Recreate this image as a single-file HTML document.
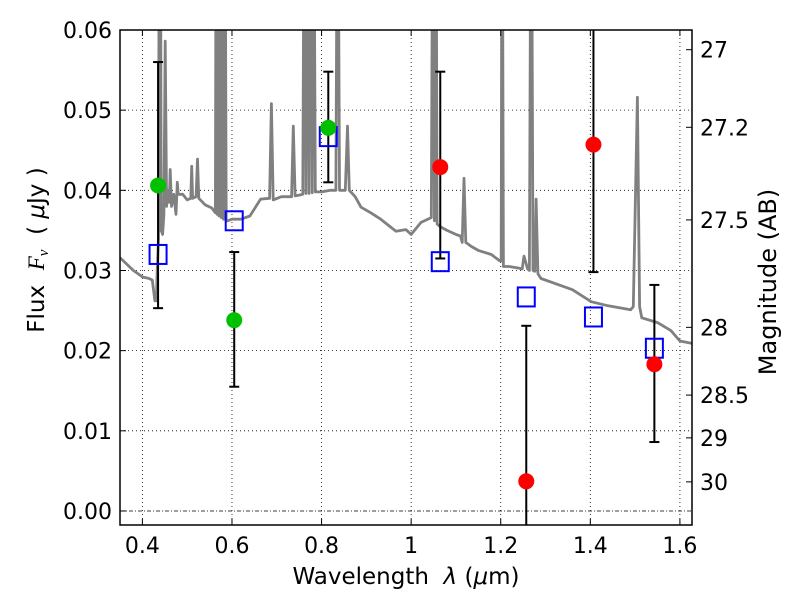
<!DOCTYPE html>
<html><head><meta charset="utf-8"><style>
body{margin:0;background:#fff;}
svg{display:block;font-family:"DejaVu Sans","Liberation Sans",sans-serif;}
text{white-space:pre;}
</style></head><body>
<svg id="chart" width="800" height="600" viewBox="0 0 800 600">
<defs><clipPath id="plotclip"><rect x="120" y="30" width="572" height="495"/></clipPath></defs>
<rect x="0" y="0" width="800" height="600" fill="#fff"/>
<g id="grid"></g>
<g id="spec" clip-path="url(#plotclip)"></g>
<g id="marks" clip-path="url(#plotclip)"></g>
<rect x="120" y="30" width="572" height="495" fill="none" stroke="#000" stroke-width="1.5"/>
<g id="ticks"></g>
<text x="406" y="584" font-size="23" text-anchor="middle" xml:space="preserve">Wavelength  <tspan font-style="italic">λ</tspan> (<tspan font-style="italic">μ</tspan>m)</text>
<text transform="translate(44,250) rotate(-90)" font-size="23" text-anchor="middle" xml:space="preserve">Flux  <tspan font-family="Liberation Serif" font-style="italic">F<tspan font-size="15" dy="4">ν</tspan></tspan><tspan dy="-4">  ( </tspan><tspan font-style="italic">μ</tspan>Jy )</text>
<text transform="translate(776,282) rotate(-90)" font-size="24" text-anchor="middle">Magnitude (AB)</text>
</svg>
<script>
const xTicks=[0.4,0.6,0.8,1.0,1.2,1.4,1.6];
const xTickLabels=["0.4","0.6","0.8","1","1.2","1.4","1.6"];
const yTicks=[0,0.01,0.02,0.03,0.04,0.05,0.06];
const yTickLabels=["0.00","0.01","0.02","0.03","0.04","0.05","0.06"];
const magTicks=[27,27.2,27.5,28,28.5,29,30];
const magTickLabels=["27","27.2","27.5","28","28.5","29","30"];
const obsWave=[0.435,0.605,0.815,1.065,1.257,1.407,1.543];
const obsFlux=[0.0406,0.0238,0.0478,0.0429,0.0037,0.0457,0.0183];
const obsLow=[0.0253,0.0155,0.041,0.0315,-0.01,0.0298,0.0086];
const obsHigh=[0.056,0.0323,0.0548,0.0548,0.0231,0.08,0.0282];
const obsColor=["#00c000","#00c000","#00c000","#ff0000","#ff0000","#ff0000","#ff0000"];
const modelFlux=[0.032,0.0362,0.0467,0.0311,0.0267,0.0242,0.0203];
const specWave=[0.35,0.38,0.40,0.415,0.422,0.425,0.428,0.431,0.433,0.436,0.438,0.440,0.442,0.445,0.448,0.451,0.454,0.457,0.460,0.462,0.465,0.47,0.475,0.478,0.48,0.482,0.49,0.5,0.508,0.51,0.512,0.52,0.523,0.526,0.54,0.555,0.563,0.565,0.567,0.569,0.571,0.573,0.576,0.579,0.581,0.584,0.587,0.59,0.6,0.62,0.64,0.664,0.684,0.688,0.692,0.71,0.733,0.737,0.741,0.75,0.758,0.762,0.765,0.768,0.772,0.776,0.779,0.782,0.786,0.8,0.82,0.832,0.836,0.84,0.853,0.858,0.862,0.875,0.888,0.91,0.932,0.95,0.966,0.988,1.0,1.022,1.045,1.049,1.052,1.055,1.058,1.062,1.067,1.08,1.1,1.11,1.114,1.118,1.122,1.134,1.15,1.179,1.198,1.201,1.203,1.206,1.219,1.24,1.248,1.252,1.26,1.264,1.268,1.272,1.276,1.279,1.283,1.29,1.32,1.36,1.402,1.44,1.49,1.496,1.505,1.51,1.515,1.55,1.58,1.6,1.627];
const specFlux=[0.0316,0.0300,0.0292,0.0290,0.0288,0.0275,0.0262,0.0262,0.030,0.034,0.09,0.09,0.035,0.0345,0.037,0.0586,0.038,0.040,0.0385,0.0426,0.038,0.0395,0.037,0.041,0.0395,0.0395,0.0395,0.0388,0.0390,0.0430,0.0390,0.0392,0.0439,0.0390,0.0382,0.0378,0.0372,0.09,0.037,0.09,0.0368,0.09,0.0366,0.09,0.0364,0.09,0.0362,0.0362,0.0364,0.0364,0.0368,0.0389,0.0390,0.0508,0.0388,0.0392,0.0392,0.048,0.0393,0.0394,0.0395,0.09,0.0396,0.09,0.0396,0.09,0.0397,0.09,0.0398,0.0398,0.0400,0.0400,0.09,0.0400,0.0400,0.048,0.0400,0.0392,0.0379,0.0372,0.0364,0.0356,0.0349,0.0351,0.0345,0.036,0.0366,0.09,0.0362,0.09,0.0358,0.0356,0.0354,0.0350,0.0345,0.0343,0.0335,0.0415,0.0335,0.0330,0.0325,0.0320,0.0312,0.0312,0.09,0.0305,0.0305,0.0303,0.0302,0.0318,0.0302,0.0300,0.09,0.0300,0.0299,0.0389,0.0296,0.0290,0.0284,0.0276,0.0261,0.0256,0.0251,0.0255,0.0516,0.0255,0.0241,0.0235,0.0225,0.0212,0.0209];
const X0=0.35,X1=1.627,PX0=120,PX1=692,Y0=-0.00175,Y1=0.06,PY0=525,PY1=30;
function sx(v){return PX0+(v-X0)/(X1-X0)*(PX1-PX0);}
function sy(v){return PY0-(v-Y0)/(Y1-Y0)*(PY0-PY1);}
function magToFlux(m){return Math.pow(10,-0.4*(m-23.9));}
const NS="http://www.w3.org/2000/svg";
function mk(tag,attrs,parent){const e=document.createElementNS(NS,tag);for(const k in attrs)e.setAttribute(k,attrs[k]);parent.appendChild(e);return e;}
const grid=document.getElementById('grid'),ticks=document.getElementById('ticks'),spec=document.getElementById('spec'),marks=document.getElementById('marks');
xTicks.forEach((v,i)=>{const x=sx(v);
 const g=mk('line',{x1:x,x2:x,y1:30,y2:525,stroke:'#000','stroke-width':0.8,'stroke-dasharray':'1,3'},grid);
 
 
 mk('line',{x1:x,x2:x,y1:525,y2:519,stroke:'#000'},ticks);
 mk('line',{x1:x,x2:x,y1:30,y2:36,stroke:'#000'},ticks);
 const t=mk('text',{x:x,y:553,'font-size':22,'text-anchor':'middle'},ticks);t.textContent=xTickLabels[i];
 
 
});
yTicks.forEach((v,i)=>{const y=sy(v);
 const g=mk('line',{x1:120,x2:692,y1:y,y2:y,stroke:'#000','stroke-width':0.8,'stroke-dasharray':v===0?'4,2,1,2':'1,3'},grid);
 
 
 mk('line',{x1:120,x2:126,y1:y,y2:y,stroke:'#000'},ticks);
 const t=mk('text',{x:112,y:y+8,'font-size':22,'text-anchor':'end'},ticks);t.textContent=yTickLabels[i];
 
 
});
magTicks.forEach((m,i)=>{const y=sy(magToFlux(m));
 mk('line',{x1:686,x2:692,y1:y,y2:y,stroke:'#000'},ticks);
 const t=mk('text',{x:700,y:y+8,'font-size':22},ticks);t.textContent=magTickLabels[i];
 
 
});
const pts=specWave.map((w,i)=>sx(w).toFixed(1)+','+sy(specFlux[i]).toFixed(1)).join(' ');
const pl=mk('polyline',{points:pts,fill:'none',stroke:'#808080','stroke-width':2.8,'stroke-linejoin':'round'},spec);


obsWave.forEach((w,i)=>{const x=sx(w);
 const e=mk('g',{},marks);
 
 
 mk('line',{x1:x,x2:x,y1:sy(obsLow[i]),y2:sy(obsHigh[i]),stroke:'#000','stroke-width':2},e);
 mk('line',{x1:x-5,x2:x+5,y1:sy(obsLow[i]),y2:sy(obsLow[i]),stroke:'#000','stroke-width':2},e);
 mk('line',{x1:x-5,x2:x+5,y1:sy(obsHigh[i]),y2:sy(obsHigh[i]),stroke:'#000','stroke-width':2},e);
});
obsWave.forEach((w,i)=>{const x=sx(w);
 const r=mk('rect',{x:x-8.5,y:sy(modelFlux[i])-9.5,width:17,height:19,fill:'none',stroke:'#0000ff','stroke-width':2},marks);
 
 
});
obsWave.forEach((w,i)=>{
 const c=mk('circle',{cx:sx(w),cy:sy(obsFlux[i]),r:8,fill:obsColor[i]},marks);
 
 
});
</script>
</body></html>
